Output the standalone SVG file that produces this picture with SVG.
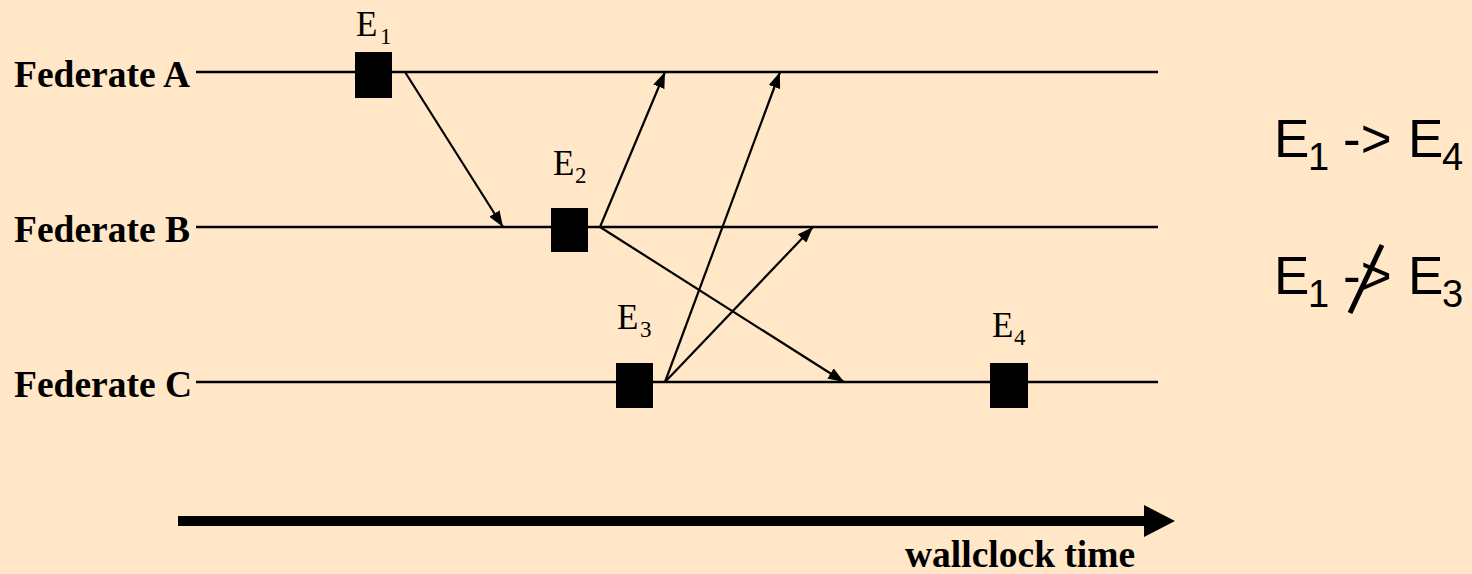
<svg xmlns="http://www.w3.org/2000/svg" width="1472" height="574" viewBox="0 0 1472 574">
<style>
.bg{fill:#FFE7C8}
.tl{stroke:#000;stroke-width:2.5;fill:none}
.msg{stroke:#000;stroke-width:2.2;fill:none;marker-end:url(#ah)}
.fed{font-family:"Liberation Serif",serif;font-weight:bold;font-size:37.5px;fill:#000}
.ev{font-family:"Liberation Serif",serif;font-size:35px;fill:#000}
.evs{font-family:"Liberation Serif",serif;font-size:23px;fill:#000}
.rel{font-family:"Liberation Sans",sans-serif;font-size:53px;fill:#000}
.rels{font-family:"Liberation Sans",sans-serif;font-size:38px;fill:#000}
.box{fill:#000}
</style>
<defs>
<marker id="ah" markerUnits="userSpaceOnUse" viewBox="0 0 16 12" refX="16" refY="6" markerWidth="16" markerHeight="12" orient="auto">
<path d="M0,0 L16,6 L0,12 Z" fill="#000"/>
</marker>
</defs>
<rect class="bg" x="0" y="0" width="1472" height="574"/>
<g id="federate-a">
<text class="fed" x="14" y="87">Federate A</text>
<line class="tl" x1="196" y1="72" x2="1158" y2="72"/>
</g>
<g id="federate-b">
<text class="fed" x="14" y="242">Federate B</text>
<line class="tl" x1="196" y1="227" x2="1158" y2="227"/>
</g>
<g id="federate-c">
<text class="fed" x="14" y="397">Federate C</text>
<line class="tl" x1="196" y1="382" x2="1158" y2="382"/>
</g>
<g id="connectors">
<line class="msg" x1="405" y1="72" x2="503" y2="227"/>
<line class="msg" x1="600" y1="227" x2="665" y2="72"/>
<line class="msg" x1="600" y1="227" x2="844" y2="382"/>
<line class="msg" x1="665" y1="382" x2="780" y2="72"/>
<line class="msg" x1="665" y1="382" x2="813" y2="227"/>
</g>
<g id="e1">
<rect class="box" x="355" y="52" width="37" height="46"/>
<text class="ev" x="356" y="36">E</text><text class="evs" x="380" y="44">1</text>
</g>
<g id="e2">
<rect class="box" x="551" y="208" width="37" height="44"/>
<text class="ev" x="553" y="175">E</text><text class="evs" x="575" y="183">2</text>
</g>
<g id="e3">
<rect class="box" x="616" y="363" width="37" height="45"/>
<text class="ev" x="617" y="329">E</text><text class="evs" x="640" y="337">3</text>
</g>
<g id="e4">
<rect class="box" x="990" y="363" width="38" height="45"/>
<text class="ev" x="992" y="337">E</text><text class="evs" x="1014" y="345">4</text>
</g>
<g id="wallclock">
<rect x="178" y="516" width="970" height="10" fill="#000"/>
<path d="M1144,505 L1175,521 L1144,537 Z" fill="#000"/>
<text class="fed" x="905" y="567">wallclock time</text>
</g>
<g id="relation-1">
<text class="rel" x="1274" y="157">E</text>
<text class="rels" x="1308" y="170">1</text>
<text class="rel" x="1343" y="157">-&gt;</text>
<text class="rel" x="1408" y="157">E</text>
<text class="rels" x="1442" y="170">4</text>
</g>
<g id="relation-2">
<text class="rel" x="1274" y="294">E</text>
<text class="rels" x="1308" y="307">1</text>
<text class="rel" x="1343" y="294">-&gt;</text>
<text class="rel" x="1408" y="294">E</text>
<text class="rels" x="1442" y="307">3</text>
<line x1="1350" y1="313" x2="1382" y2="245" stroke="#000" stroke-width="5"/>
</g>
</svg>
